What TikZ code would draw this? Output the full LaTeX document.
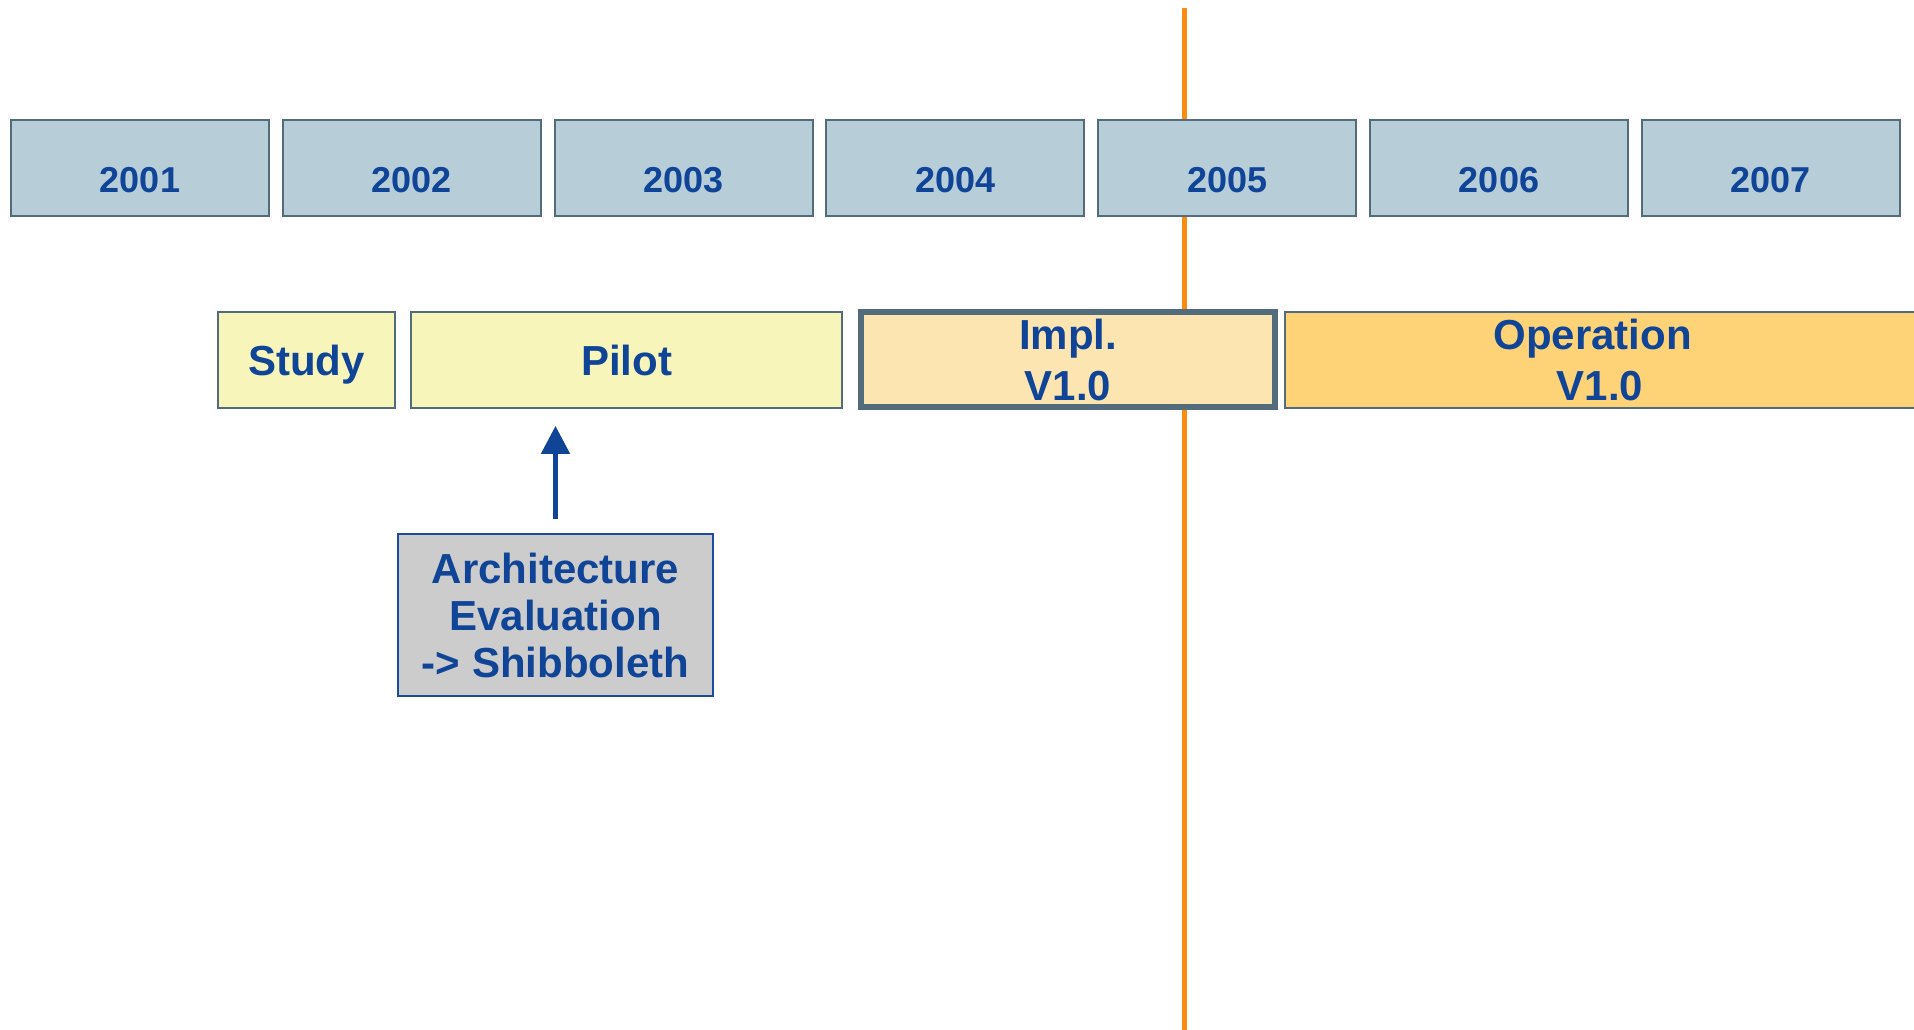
\documentclass[tikz,border=0pt]{standalone}
\usepackage{fontspec}
\setmainfont{Liberation Sans}
\usetikzlibrary{arrows.meta}
\definecolor{txtblue}{RGB}{15,68,150}
\definecolor{yearfill}{RGB}{183,205,216}
\definecolor{boxline}{RGB}{82,108,124}
\definecolor{paleyellow}{RGB}{247,245,185}
\definecolor{implfill}{RGB}{253,229,177}
\definecolor{opfill}{RGB}{254,211,119}
\definecolor{archfill}{RGB}{204,204,204}
\definecolor{archline}{RGB}{28,76,156}
\definecolor{nowline}{RGB}{250,140,16}
\begin{document}
\begin{tikzpicture}[x=1pt,y=1pt,
  yearbox/.style={draw=boxline, line width=2pt, fill=yearfill, minimum width=258pt, minimum height=96pt,
    inner sep=0pt, text=txtblue, font=\fontsize{36}{43}\selectfont\bfseries, text height=50pt, text depth=0pt},
  phasebox/.style={draw=boxline, line width=1.8pt, fill=paleyellow, minimum height=96pt, inner sep=0pt,
    text=txtblue, font=\fontsize{42}{51}\selectfont\bfseries, text height=30pt, text depth=0pt},
  implbox/.style={draw=boxline, line width=6pt, fill=implfill, minimum width=414pt, minimum height=95pt, inner sep=0pt,
    align=center, text=txtblue, font=\fontsize{42}{51}\selectfont\bfseries},
  opbox/.style={draw=boxline, line width=1.8pt, fill=opfill, minimum width=635pt, minimum height=96pt, inner sep=0pt,
    align=center, text=txtblue, font=\fontsize{42}{51}\selectfont\bfseries},
  archbox/.style={draw=archline, line width=2pt, fill=archfill, minimum width=315pt, minimum height=162pt, inner sep=0pt,
    align=center, text=txtblue, font=\fontsize{42}{47}\selectfont\bfseries},
  nowstyle/.style={draw=nowline, line width=5pt},
  uparrow/.style={draw=txtblue, line width=5pt, -{Triangle[length=28pt,width=28pt]}}
]
\path[use as bounding box] (0,0) rectangle (1914,-1030);
\clip (0,0) rectangle (1914,-1030);
% current-date line (behind everything)
\coordinate (ltop) at (1184,-8);
\coordinate (lbot) at (1184,-1040);
\draw[nowstyle] (ltop) -- (lbot);
% years
\foreach \i/\yr in {0/2001,1/2002,2/2003,3/2004,4/2005,5/2006,6/2007}{
  \node[yearbox] (y\yr) at ({11+271.8*\i+129},-168) {\yr};
}
% phases
\node[phasebox, minimum width=177pt] (study) at (306.5,-360) {Study};
\node[phasebox, minimum width=431pt] (pilot) at (626.5,-360) {Pilot};
\node[implbox] (impl) at (1068,-359.5) {Impl.\\V1.0};
\node[opbox] (oper) at (1602.5,-360) {Operation\hspace*{20pt}\\V1.0\hspace*{5pt}};
% architecture evaluation
\node[archbox] (arch) at (555.5,-615) {Architecture\\Evaluation\\-> Shibboleth};
\draw[uparrow, shorten <=14pt, shorten >=17pt] (arch.north) -- (arch.north |- pilot.south);
\end{tikzpicture}
\end{document}
